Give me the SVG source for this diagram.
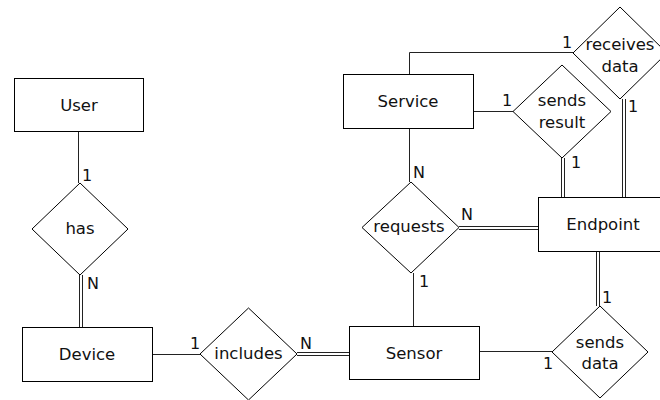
<svg xmlns="http://www.w3.org/2000/svg" width="660" height="400" viewBox="0 0 660 400">
<style>
.ent rect{fill:#fff;stroke:#000;stroke-width:1}
.rel polygon{fill:#fff;stroke:#000;stroke-width:1}
text{font-family:"DejaVu Sans",Verdana,sans-serif;font-size:16.5px;fill:#111}
.lbl{text-anchor:middle;dominant-baseline:central}
.card{font-size:16px}
#connectors line{stroke:#222;stroke-width:1;fill:none}
</style>
<rect width="660" height="400" fill="#fff"/>
<g id="connectors">
<line x1="78.5" y1="131" x2="78.5" y2="183"/>
<line x1="79.5" y1="275" x2="79.5" y2="327"/>
<line x1="82.5" y1="275" x2="82.5" y2="327"/>
<line x1="152" y1="354.5" x2="200" y2="354.5"/>
<line x1="297" y1="352.5" x2="349" y2="352.5"/>
<line x1="297" y1="355.5" x2="349" y2="355.5"/>
<line x1="479" y1="351.5" x2="552" y2="351.5"/>
<line x1="596.5" y1="251" x2="596.5" y2="306"/>
<line x1="599.5" y1="251" x2="599.5" y2="306"/>
<line x1="413.5" y1="273" x2="413.5" y2="326"/>
<line x1="409.5" y1="128" x2="409.5" y2="182"/>
<line x1="459" y1="226.5" x2="538" y2="226.5"/>
<line x1="459" y1="229.5" x2="538" y2="229.5"/>
<polyline points="409.5,74 409.5,52.5 573,52.5" style="stroke:#222;stroke-width:1;fill:none"/>
<line x1="473" y1="111.5" x2="513" y2="111.5"/>
<line x1="561.5" y1="158" x2="561.5" y2="197"/>
<line x1="564.5" y1="158" x2="564.5" y2="197"/>
<line x1="622.5" y1="99" x2="622.5" y2="197"/>
<line x1="625.5" y1="99" x2="625.5" y2="197"/>
</g>
<g id="user" class="ent"><rect x="14.5" y="78.5" width="129" height="53"/><text class="lbl" x="79" y="105">User</text></g>
<g id="device" class="ent"><rect x="22.5" y="327.5" width="130" height="54"/><text class="lbl" x="87" y="354.5">Device</text></g>
<g id="service" class="ent"><rect x="343.5" y="74.5" width="130" height="54"/><text class="lbl" x="408" y="101.5">Service</text></g>
<g id="sensor" class="ent"><rect x="349.5" y="326.5" width="130" height="53"/><text class="lbl" x="414" y="353">Sensor</text></g>
<g id="endpoint" class="ent"><rect x="538.5" y="197.5" width="130" height="54"/><text class="lbl" x="603" y="224.5">Endpoint</text></g>
<g id="has" class="rel"><polygon points="80,183 128,229 80,275 32,229"/><text class="lbl" x="80" y="228">has</text></g>
<g id="includes" class="rel"><polygon points="248.5,308 297,354 248.5,400 200,354"/><text class="lbl" x="248.5" y="353">includes</text></g>
<g id="requests" class="rel"><polygon points="411,182 459,227.5 411,273 362,227.5"/><text class="lbl" x="409" y="226">requests</text></g>
<g id="sends_result" class="rel"><polygon points="562,65 611,111.5 562,158 513,111.5"/><text class="lbl" x="562" y="100">sends</text><text class="lbl" x="562" y="122">result</text></g>
<g id="receives_data" class="rel"><polygon points="620,7 667,53 620,99 573,53"/><text class="lbl" x="620" y="44">receives</text><text class="lbl" x="620" y="66">data</text></g>
<g id="sends_data" class="rel"><polygon points="600,306 648,352 600,398 552,352"/><text class="lbl" x="600" y="342">sends</text><text class="lbl" x="600" y="363">data</text></g>
<g id="cardinalities">
<text class="lbl card" x="87" y="175">1</text>
<text class="lbl card" x="93" y="283">N</text>
<text class="lbl card" x="195" y="343">1</text>
<text class="lbl card" x="306" y="343">N</text>
<text class="lbl card" x="419" y="172">N</text>
<text class="lbl card" x="467" y="214">N</text>
<text class="lbl card" x="424" y="281">1</text>
<text class="lbl card" x="567" y="42">1</text>
<text class="lbl card" x="507" y="100">1</text>
<text class="lbl card" x="576" y="162">1</text>
<text class="lbl card" x="633" y="106">1</text>
<text class="lbl card" x="607" y="297">1</text>
<text class="lbl card" x="548" y="363">1</text>
</g>
</svg>
